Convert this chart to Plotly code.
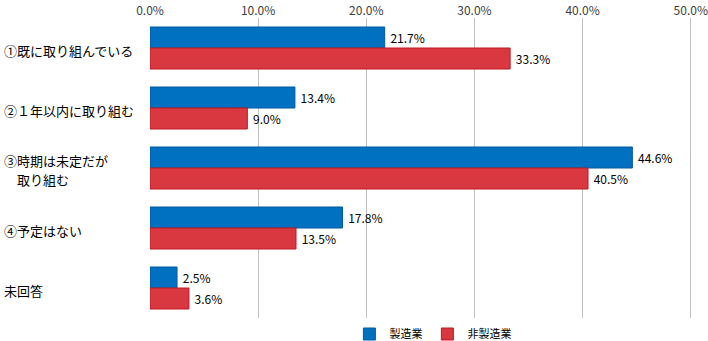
import plotly.graph_objects as go

categories = ["①既に取り組んでいる", "②１年以内に取り組む", "③時期は未定だが<br>　取り組む", "④予定はない", "未回答"]
manufacturing = [21.7, 13.4, 44.6, 17.8, 2.5]
non_manufacturing = [33.3, 9.0, 40.5, 13.5, 3.6]
series_names = ["製造業", "非製造業"]
tick_values = [0, 10, 20, 30, 40, 50]

FONT = "Noto Sans CJK JP"

fig = go.Figure()
fig.add_trace(go.Bar(
    y=categories, x=manufacturing, orientation="h", name=series_names[0],
    marker=dict(color="#0070C0", line=dict(color="#0058A0", width=1)),
    text=[f" {v:.1f}%" for v in manufacturing], textposition="outside",
    textfont=dict(size=12, color="#000000", family=FONT), cliponaxis=False,
))
fig.add_trace(go.Bar(
    y=categories, x=non_manufacturing, orientation="h", name=series_names[1],
    marker=dict(color="#D93840", line=dict(color="#C01820", width=1)),
    text=[f" {v:.1f}%" for v in non_manufacturing], textposition="outside",
    textfont=dict(size=12, color="#000000", family=FONT), cliponaxis=False,
))

# Category names, left-aligned at the page edge (multi-line names split per line)
for c in categories:
    lines = c.split("<br>")
    n = len(lines)
    for i, line in enumerate(lines):
        fig.add_annotation(
            x=0, xref="paper", xshift=-148, y=c, yref="y",
            yshift=-2 + (n - 1) * 9.5 - i * 19,
            text=line, showarrow=False, xanchor="left", align="left",
            font=dict(size=13, color="#000000", family=FONT),
        )

fig.update_layout(
    width=708, height=341,
    margin=dict(l=150, r=14, t=18, b=23, autoexpand=False),
    paper_bgcolor="white", plot_bgcolor="white",
    barmode="group", bargap=0.3, bargroupgap=0,
    font=dict(family=FONT, size=12, color="#000000"),
    showlegend=True,
    legend=dict(
        orientation="h", x=0.52, xanchor="center", y=-0.005, yanchor="top",
        font=dict(size=11, color="#000000", family=FONT),
        itemwidth=30, tracegroupgap=0,
    ),
    xaxis=dict(
        range=[0, 50.3], side="top", tickvals=tick_values,
        ticktext=[f"{v:.1f}%" for v in tick_values],
        showgrid=True, gridcolor="#C0C0C0", gridwidth=1,
        zeroline=False, showline=False, ticks="", automargin=False,
        ticklabeloverflow="allow",
        tickfont=dict(size=12, color="#404040", family=FONT),
    ),
    yaxis=dict(
        autorange="reversed", showticklabels=False, showgrid=False,
        zeroline=False, showline=False, ticks="", automargin=False,
    ),
)

fig.write_html("out.html")
